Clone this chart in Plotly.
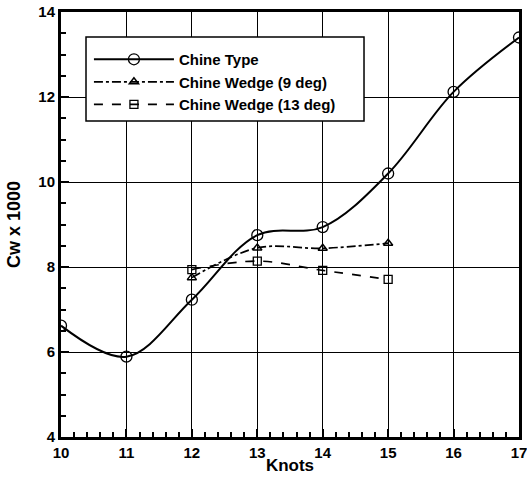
import plotly.graph_objects as go

knots_type = [10, 11, 12, 13, 14, 15, 16, 17]
cw_type = [6.62, 5.89, 7.23, 8.75, 8.94, 10.2, 12.12, 13.4]

knots_wedge = [12, 13, 14, 15]
cw_wedge9 = [7.75, 8.45, 8.44, 8.56]
cw_wedge13 = [7.94, 8.14, 7.92, 7.71]

names = ["Chine Type", "Chine Wedge (9 deg)", "Chine Wedge (13 deg)"]

fig = go.Figure()
fig.add_trace(go.Scatter(
    x=knots_type, y=cw_type, name=names[0], mode="lines+markers",
    line=dict(color="black", width=2, shape="spline", smoothing=1.0),
    marker=dict(symbol="circle-open", size=11, color="black", line=dict(width=1.3)),
))
fig.add_trace(go.Scatter(
    x=knots_wedge, y=cw_wedge9, name=names[1], mode="lines+markers",
    line=dict(color="black", width=1.7, dash="dashdot", shape="spline"),
    marker=dict(symbol="triangle-up-open", size=8, color="black", line=dict(width=1.5)),
))
fig.add_trace(go.Scatter(
    x=knots_wedge, y=cw_wedge13, name=names[2], mode="lines+markers",
    line=dict(color="black", width=1.7, dash="dash", shape="spline"),
    marker=dict(symbol="square-open", size=8, color="black", line=dict(width=1.3)),
))

font_family = "Liberation Sans, Arial, sans-serif"
axis_common = dict(
    showline=True, linecolor="black", linewidth=3, mirror=True,
    showgrid=True, gridcolor="black", gridwidth=1,
    ticks="inside", ticklen=8, tickwidth=2, tickcolor="black",
    tickfont=dict(family=font_family, size=15, color="black", weight="bold"),
    zeroline=False, automargin=False, ticklabeloverflow="allow",
)
fig.update_xaxes(
    range=[10, 17], dtick=1, tick0=10,
    minor=dict(ticks="inside", dtick=0.2, ticklen=5, tickwidth=1.5, tickcolor="black", showgrid=False),
    title=dict(text="Knots", font=dict(family=font_family, size=17, color="black", weight="bold"), standoff=0),
    **axis_common,
)
fig.update_yaxes(
    range=[4, 14], dtick=2, tick0=4,
    minor=dict(ticks="inside", dtick=0.5, ticklen=5, tickwidth=1.5, tickcolor="black", showgrid=False),
    title=dict(text="Cw x 1000", font=dict(family=font_family, size=18, color="black", weight="bold"), standoff=14),
    **axis_common,
)

fig.add_shape(
    type="rect", xref="paper", yref="paper",
    x0=0.0546, x1=0.6616, y0=0.7435, y1=0.941,
    line=dict(color="black", width=1.5), fillcolor="white", layer="above",
)

fig.update_layout(
    width=527, height=479,
    margin=dict(l=61, r=8, t=12, b=42),
    plot_bgcolor="white", paper_bgcolor="white",
    showlegend=True,
    legend=dict(
        x=0.061, y=0.927, xanchor="left", yanchor="top",
        bgcolor="rgba(0,0,0,0)", borderwidth=0,
        font=dict(family=font_family, size=15, color="black", weight="bold"),
        itemwidth=80, tracegroupgap=0,
    ),
)

fig.write_html(
    "out.html",
    config={"displayModeBar": False},
    post_script="document.body.style.margin='0';document.body.style.overflow='hidden';",
)
